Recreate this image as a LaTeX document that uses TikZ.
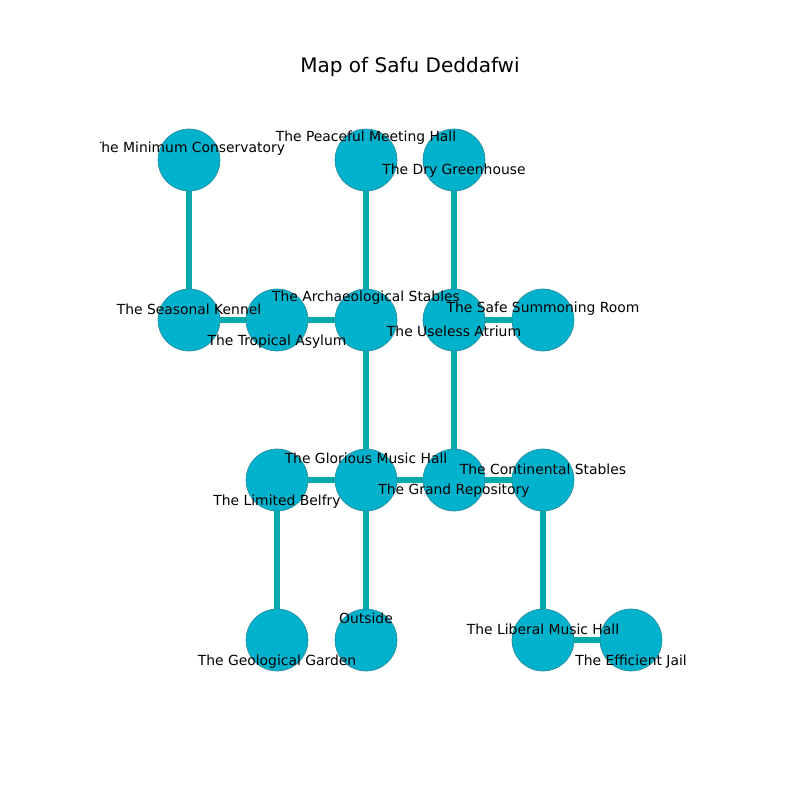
\documentclass[tikz,border=0pt]{standalone}
\usepackage{fontspec}
\setmainfont{DejaVu Sans}
\usetikzlibrary{backgrounds}
\begin{document}
\definecolor{roomfill}{HTML}{00B2CC}
\definecolor{roomline}{HTML}{2A8E9E}
\definecolor{passage}{HTML}{00AAAA}
\begin{tikzpicture}[x=0.72pt,y=-0.72pt,
  room/.style={circle,fill=roomfill,draw=roomline,line width=0.5pt,minimum size=44.6pt,inner sep=0pt},
  passageway/.style={draw=passage,line width=4pt},
  roomlabel/.style={font=\fontsize{10}{12}\selectfont,inner sep=0pt,anchor=center}]
\useasboundingbox (0,0) rectangle (800,800);
\node[font=\fontsize{14.4}{17}\selectfont] (title) at (410,67) {Map of Safu Deddafwi};

% rooms
\node[room] (mincons) at (189,160) {};
\node[room] (peaceful) at (366,160) {};
\node[room] (dry) at (454,160) {};
\node[room] (seasonal) at (189,320) {};
\node[room] (tropical) at (277,320) {};
\node[room] (archaeo) at (366,320) {};
\node[room] (useless) at (454,320) {};
\node[room] (safe) at (543,320) {};
\node[room] (limited) at (277,480) {};
\node[room] (glorious) at (366,480) {};
\node[room] (grand) at (454,480) {};
\node[room] (continental) at (543,480) {};
\node[room] (geological) at (277,640) {};
\node[room] (outside) at (366,640) {};
\node[room] (liberal) at (543,640) {};
\node[room] (jail) at (631,640) {};

% passages, drawn beneath the rooms
\begin{scope}[on background layer]
\path[passageway] (mincons.center) -- (seasonal.center);
\path[passageway] (seasonal.center) -- (tropical.center);
\path[passageway] (tropical.center) -- (archaeo.center);
\path[passageway] (peaceful.center) -- (archaeo.center);
\path[passageway] (archaeo.center) -- (glorious.center);
\path[passageway] (dry.center) -- (useless.center);
\path[passageway] (useless.center) -- (safe.center);
\path[passageway] (useless.center) -- (grand.center);
\path[passageway] (limited.center) -- (glorious.center);
\path[passageway] (glorious.center) -- (grand.center);
\path[passageway] (grand.center) -- (continental.center);
\path[passageway] (limited.center) -- (geological.center);
\path[passageway] (glorious.center) -- (outside.center);
\path[passageway] (continental.center) -- (liberal.center);
\path[passageway] (liberal.center) -- (jail.center);
\end{scope}

% labels, clipped to the plotting area
\begin{scope}
\clip (100,96) rectangle (720,712);
\node[roomlabel] (lmincons) at (189,149) {The Minimum Conservatory};
\node[roomlabel] (lpeaceful) at (366,138) {The Peaceful Meeting Hall};
\node[roomlabel] (ldry) at (454,171) {The Dry Greenhouse};
\node[roomlabel] (lseasonal) at (189,309) {The Seasonal Kennel};
\node[roomlabel] (ltropical) at (277,342) {The Tropical Asylum};
\node[roomlabel] (larchaeo) at (366,298) {The Archaeological Stables};
\node[roomlabel] (luseless) at (454,331) {The Useless Atrium};
\node[roomlabel] (lsafe) at (543,309) {The Safe Summoning Room};
\node[roomlabel] (llimited) at (277,502) {The Limited Belfry};
\node[roomlabel] (lglorious) at (366,458) {The Glorious Music Hall};
\node[roomlabel] (lgrand) at (454,491) {The Grand Repository};
\node[roomlabel] (lcontinental) at (543,469) {The Continental Stables};
\node[roomlabel] (lgeological) at (277,662) {The Geological Garden};
\node[roomlabel] (loutside) at (366,618) {Outside};
\node[roomlabel] (lliberal) at (543,629) {The Liberal Music Hall};
\node[roomlabel] (ljail) at (631,662) {The Efficient Jail};
\end{scope}
\end{tikzpicture}
\end{document}
